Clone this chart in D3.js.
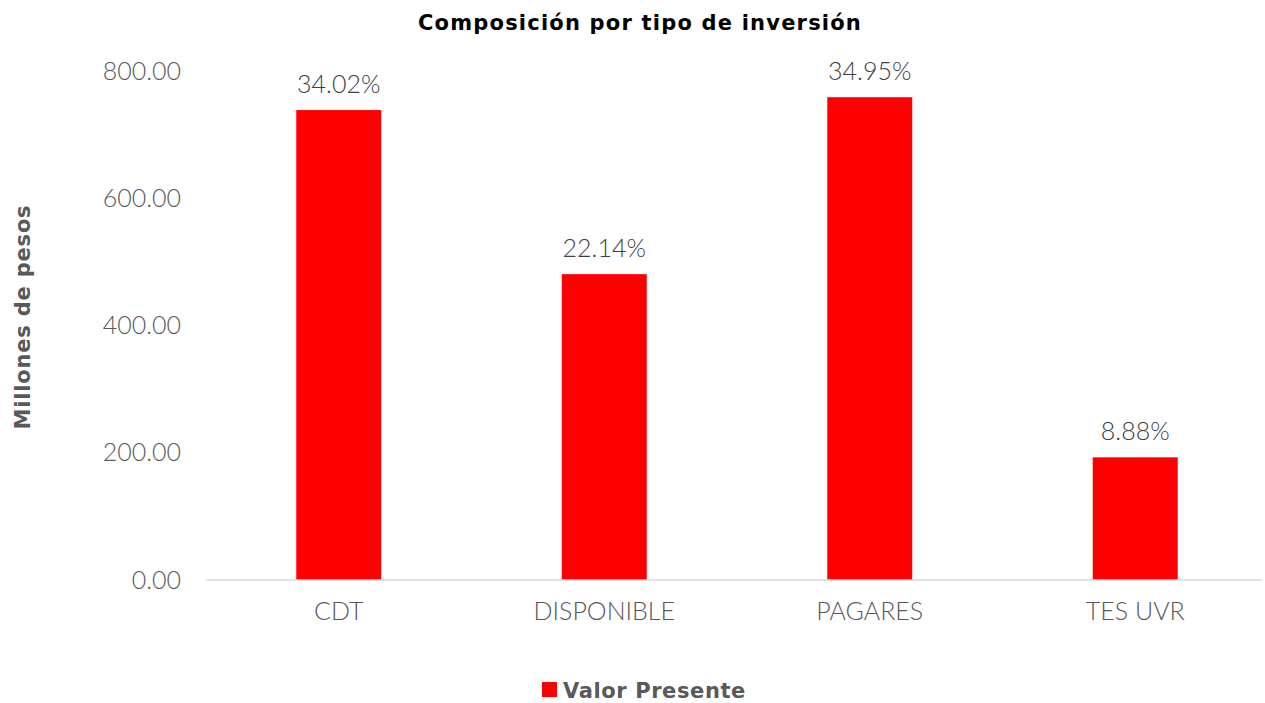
<!DOCTYPE html>
<html>
<head>
<meta charset="utf-8">
<script src="https://cdn.jsdelivr.net/npm/d3@7"></script>
<style>
  body { margin: 0; background: #fff; }
  text { font-family: "Lato", "Open Sans", sans-serif; }
  .bold { font-family: "DejaVu Sans", sans-serif; font-weight: bold; }
</style>
</head>
<body>
<div id="display"></div>
<script>
let w = 1265;
let h = 703;

// data
const categories = ['CDT', 'DISPONIBLE', 'PAGARES', 'TES UVR'];
const valores = [738.6, 480.7, 758.8, 192.8];
const porcentajes = ['34.02%', '22.14%', '34.95%', '8.88%'];
const yTicks = [0, 200, 400, 600, 800];

let viz = d3.select('#display')
            .append('svg')
                .attr('width', w)
                .attr('height', h)
                .style('background-color', 'white');

let xScale = d3.scaleBand().domain(categories).range([206, 1268]).paddingInner(0.68).paddingOuter(0.34);
let yScale = d3.scaleLinear().domain([0, 800]).range([580, 71]);

// title
viz.append('text')
    .attr('class', 'bold')
    .attr('x', 640).attr('y', 30)
    .attr('text-anchor', 'middle')
    .style('font-size', '21px').style('letter-spacing', '1.2px').style('fill', '#000')
    .text('Composición por tipo de inversión');

// y axis (labels only)
let yAxis = d3.axisLeft(yScale).tickValues(yTicks).tickFormat(d3.format('.2f')).tickSize(0).tickPadding(0);
let yg = viz.append('g')
    .attr('class', 'yaxis')
    .attr('transform', 'translate(' + 181 + ',' + 0 + ')')
    .call(yAxis);
yg.select('.domain').remove();
yg.selectAll('text').style('font-size', '25px').style('fill', '#595959').style('font-family', 'Lato, sans-serif').style('font-weight', 300);

// bars
viz.selectAll('.bar')
    .data(categories)
    .enter()
    .append('rect')
        .attr('class', 'bar')
        .attr('x', (d) => xScale(d))
        .attr('y', (d, i) => yScale(valores[i]))
        .attr('width', xScale.bandwidth())
        .attr('height', (d, i) => yScale(0) - yScale(valores[i]))
        .attr('fill', '#ff0000');

// x axis
let xAxis = d3.axisBottom(xScale).tickSize(0).tickPadding(22);
let xg = viz.append('g')
    .attr('class', 'xaxis')
    .attr('transform', 'translate(' + 0 + ',' + 580 + ')')
    .call(xAxis);
xg.select('.domain').remove();
xg.append('line').attr('x1', 206).attr('x2', 1262).attr('y1', 0).attr('y2', 0)
    .attr('stroke', '#d9d9d9').attr('stroke-width', 1.5);
xg.selectAll('text').style('font-size', '25px').style('fill', '#595959').style('font-family', 'Lato, sans-serif').style('font-weight', 300);

// data labels
viz.selectAll('.label')
    .data(categories)
    .enter()
    .append('text')
        .attr('class', 'label')
        .attr('x', (d) => xScale(d) + xScale.bandwidth() / 2)
        .attr('y', (d, i) => yScale(valores[i]) - 17)
        .attr('text-anchor', 'middle')
        .style('font-size', '25px').style('fill', '#404040').style('font-weight', 300)
        .text((d, i) => porcentajes[i]);

// y axis title
viz.append('text')
    .attr('class', 'bold')
    .attr('transform', 'translate(' + 30 + ',' + 317 + ') rotate(-90)')
    .attr('text-anchor', 'middle')
    .style('font-size', '21px').style('letter-spacing', '0.8px').style('fill', '#595959')
    .text('Millones de pesos');

// legend
viz.append('rect').attr('x', 542).attr('y', 682).attr('width', 15).attr('height', 15).attr('fill', '#ff0000');
viz.append('text')
    .attr('class', 'bold')
    .attr('x', 563).attr('y', 698)
    .style('font-size', '21px').style('letter-spacing', '0.6px').style('fill', '#595959')
    .text('Valor Presente');
</script>
</body>
</html>
